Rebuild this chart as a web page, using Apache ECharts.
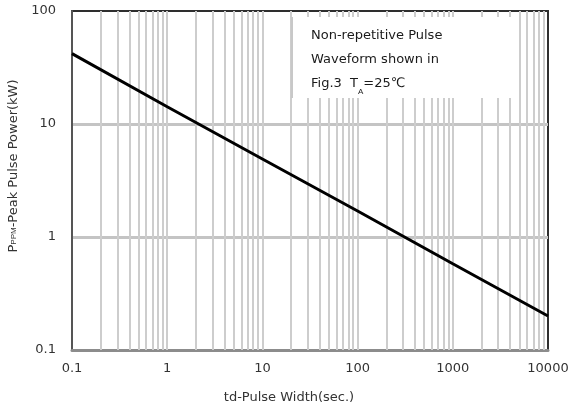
<!DOCTYPE html>
<html>
<head>
  <meta charset="utf-8">
</head>
<body style="margin: 0">
  <div id="container" style="width: 572px; height: 412px"></div>
  <script src="https://cdn.jsdelivr.net/npm/echarts@6/dist/echarts.min.js"></script>
  <script>
    // pulse width (sec.) vs peak pulse power (kW)
    var pulseWidth = [0.1, 1, 10, 100, 1000, 10000];
    var peakPower = [42, 14.2, 4.9, 1.7, 0.58, 0.2];
    var decades = [0.1, 1, 10, 100, 1000];
    var xTickLabels = ['0.1', '1', '10', '100', '1000', '10000'];
    var yTickLabels = ['0.1', '1', '10', '100'];
    var noteLines = ['Non-repetitive Pulse', 'Waveform shown in', 'Fig.3  T{sub|A}=25\u2103'];

    var chart = echarts.init(document.getElementById('container'));

    // vertical grid: 1..9 within every decade (left edge is the frame)
    var gridX = [];
    decades.forEach(function (d) {
      for (var k = 1; k <= 9; k++) {
        if (d * k > 0.1) gridX.push({ xAxis: d * k });
      }
    });

    var font = 'DejaVu Sans';

    var option = {
      animation: false,
      grid: {
        left: 72, right: 24, top: 11, bottom: 62,
        show: true, borderColor: '#2e2e2e', borderWidth: 2, backgroundColor: '#fff'
      },
      xAxis: {
        type: 'log', logBase: 10, min: 0.1, max: 10000,
        axisLine: { show: true, lineStyle: { color: '#8c8c8c', width: 3 } },
        axisTick: { show: false },
        splitLine: { show: false },
        axisLabel: {
          margin: 12, color: '#333', fontSize: 13, fontFamily: font,
          formatter: function (v) {
            var i = Math.round(Math.log10(v) + 1);
            return xTickLabels[i];
          }
        }
      },
      yAxis: {
        type: 'log', logBase: 10, min: 0.1, max: 100,
        axisLine: { show: true, lineStyle: { color: '#555', width: 2 } },
        axisTick: { show: false },
        splitLine: {
          show: true, showMinLine: false, showMaxLine: false,
          lineStyle: { color: '#c4c4c4', width: 3 }
        },
        axisLabel: {
          margin: 16, color: '#333', fontSize: 13, fontFamily: font,
          formatter: function (v) {
            var i = Math.round(Math.log10(v) + 1);
            return yTickLabels[i];
          }
        }
      },
      series: [{
        type: 'line',
        data: pulseWidth.map(function (x, i) { return [x, peakPower[i]]; }),
        showSymbol: false,
        lineStyle: { color: '#000', width: 3 },
        z: 5,
        markLine: {
          silent: true,
          symbol: 'none',
          label: { show: false },
          lineStyle: { color: '#cdcdcd', width: 2, type: 'solid' },
          data: gridX
        }
      }],
      graphic: [
        {
          type: 'rect', z: 100,
          shape: { x: 292, y: 17, width: 221, height: 81 },
          style: { fill: '#fff', stroke: null }
        },
        {
          type: 'line', z: 101,
          shape: { x1: 292, y1: 17, x2: 292, y2: 98 },
          style: { stroke: '#c8c8c8', lineWidth: 2 }
        },
        {
          type: 'text', z: 102, left: 311, top: 24,
          style: {
            text: noteLines.join('\n'),
            fill: '#1a1a1a', font: '13px "DejaVu Sans"', lineHeight: 24,
            rich: { sub: { fontSize: 8, verticalAlign: 'bottom', fill: '#1a1a1a' } }
          }
        },
        {
          type: 'text', z: 102, x: 14, y: 166, rotation: Math.PI / 2,
          style: {
            text: 'P{sub|PPM}-Peak Pulse Power(kW)',
            fill: '#333', font: '13px "DejaVu Sans"', align: 'center', verticalAlign: 'middle',
            rich: { sub: { fontSize: 8, fill: '#333' } }
          }
        },
        {
          type: 'text', z: 102, x: 289, y: 398,
          style: {
            text: 'td-Pulse Width(sec.)',
            fill: '#333', font: '13px "DejaVu Sans"', align: 'center', verticalAlign: 'middle'
          }
        }
      ]
    };

    chart.setOption(option);
  </script>
</body>
</html>
